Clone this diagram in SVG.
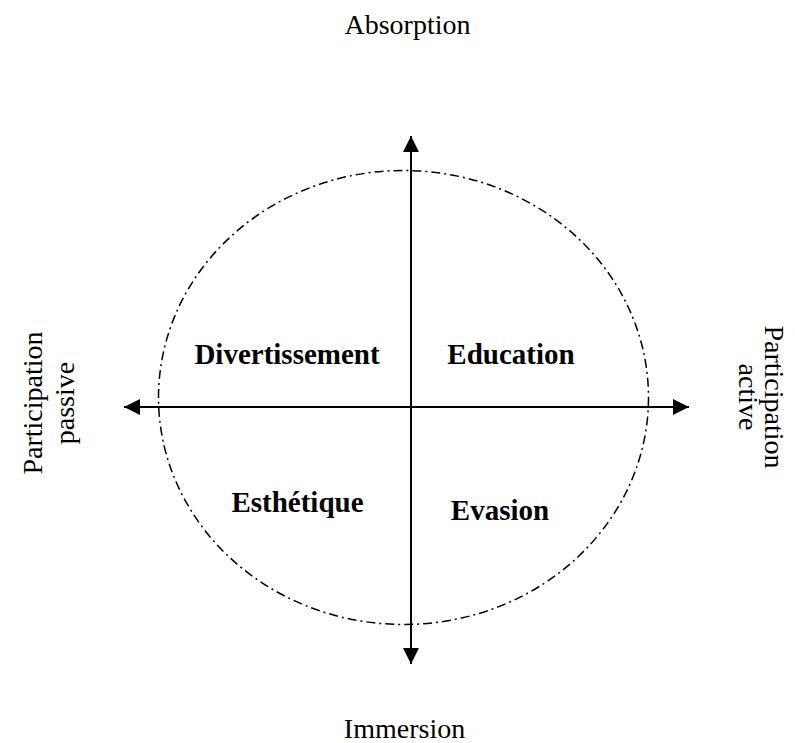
<svg xmlns="http://www.w3.org/2000/svg" width="795" height="743" viewBox="0 0 795 743">
<style>
.t{font-family:"Liberation Serif","Times New Roman",serif;font-size:28px;fill:#000}
.b{font-family:"Liberation Serif","Times New Roman",serif;font-size:29px;font-weight:bold;fill:#000}
.ax{stroke:#000;stroke-width:2;fill:none}
.circ{stroke:#000;stroke-width:1.5;fill:none;stroke-dasharray:9 4 2 4}
</style>
<defs>
<marker id="ah" viewBox="0 0 16 16" refX="16" refY="8" markerWidth="16" markerHeight="16" markerUnits="userSpaceOnUse" orient="auto">
<path d="M0,0 L16,8 L0,16 Z" fill="#000"/>
</marker>
</defs>
<rect width="795" height="743" fill="#fff"/>
<g id="circle"><ellipse class="circ" cx="403.5" cy="397.5" rx="245" ry="227"/></g>
<g id="connectors">
<line class="ax" x1="411" y1="400" x2="411" y2="136" marker-end="url(#ah)"/>
<line class="ax" x1="411" y1="400" x2="411" y2="664" marker-end="url(#ah)"/>
<line class="ax" x1="411" y1="407" x2="124" y2="407" marker-end="url(#ah)"/>
<line class="ax" x1="411" y1="407" x2="689" y2="407" marker-end="url(#ah)"/>
</g>
<g id="absorption"><text class="t" x="407.5" y="34" text-anchor="middle">Absorption</text></g>
<g id="immersion"><text class="t" x="404.5" y="738" text-anchor="middle">Immersion</text></g>
<g id="passive"><text class="t" text-anchor="middle" transform="translate(42,403) rotate(-90)"><tspan x="0" y="0">Participation</tspan><tspan x="0" y="32">passive</tspan></text></g>
<g id="active"><text class="t" text-anchor="middle" transform="translate(765,397) rotate(90)"><tspan x="0" y="0">Participation</tspan><tspan x="0" y="26">active</tspan></text></g>
<g id="divertissement"><text class="b" x="287" y="364" text-anchor="middle">Divertissement</text></g>
<g id="education"><text class="b" x="511" y="364" text-anchor="middle">Education</text></g>
<g id="esthetique"><text class="b" x="297.5" y="512" text-anchor="middle">Esthétique</text></g>
<g id="evasion"><text class="b" x="500" y="520" text-anchor="middle">Evasion</text></g>
</svg>
